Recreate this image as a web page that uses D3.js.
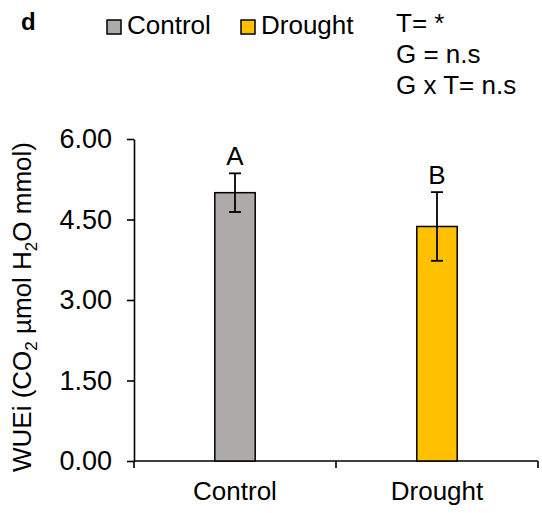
<!DOCTYPE html>
<html>
<head>
<meta charset="utf-8">
<script src="https://cdn.jsdelivr.net/npm/d3@7"></script>
<style>
  html, body { margin: 0; padding: 0; background: #fff; }
  svg text { font-family: Arial, "Liberation Sans", sans-serif; fill: #000; }
</style>
</head>
<body>
<svg id="chart" width="542" height="513"></svg>
<script>
// WUEi by treatment
const categories = ["Control", "Drought"];
const means = [5.00, 4.37];
const errors = [0.36, 0.64];
const letters = ["A", "B"];
const colors = ["#AEAAAA", "#FFC000"];
const yTicks = [0, 1.5, 3, 4.5, 6];
const statLines = ["T= *", "G = n.s", "G x T= n.s"];

const svg = d3.select("#chart");
const fs = 26;

const y = d3.scaleLinear().domain([0, 6]).range([461, 139]);
const x = d3.scaleBand().domain(categories).range([134, 538]).padding(0);
const barW = x.bandwidth() * 0.2;

// y axis
const yAxis = d3.axisLeft(y).tickValues(yTicks).tickFormat(d3.format(".2f"))
  .tickSizeInner(7).tickSizeOuter(0).tickPadding(15);
const gy = svg.append("g").attr("transform", "translate(134,0)").call(yAxis);
gy.select(".domain").attr("stroke", "#000").attr("stroke-width", 1.6);
gy.selectAll(".tick line").attr("stroke", "#000").attr("stroke-width", 1.6);
gy.selectAll(".tick text").style("font-size", "27px").attr("font-family", null).attr("fill", "#000");

// x axis with boundary ticks
svg.append("line").attr("x1", 134).attr("x2", 538).attr("y1", y(0)).attr("y2", y(0))
  .attr("stroke", "#000").attr("stroke-width", 1.6);
const bounds = [x.range()[0]].concat(categories.map(c => x(c) + x.bandwidth()));
svg.selectAll(".xtick").data(bounds).join("line")
  .attr("x1", d => d).attr("x2", d => d).attr("y1", y(0)).attr("y2", y(0) + 7)
  .attr("stroke", "#000").attr("stroke-width", 1.6);
svg.selectAll(".xlab").data(categories).join("text")
  .attr("x", d => x(d) + x.bandwidth() / 2).attr("y", 500)
  .attr("text-anchor", "middle").style("font-size", fs + "px").text(d => d);

// bars
const data = categories.map((c, i) => ({ c, m: means[i], e: errors[i], l: letters[i], col: colors[i] }));
svg.selectAll(".bar").data(data).join("rect")
  .attr("x", d => x(d.c) + x.bandwidth() / 2 - barW / 2)
  .attr("y", d => y(d.m)).attr("width", barW).attr("height", d => y(0) - y(d.m))
  .attr("fill", d => d.col).attr("stroke", "#000").attr("stroke-width", 1.5);

// error bars
const eb = svg.selectAll(".eb").data(data).join("g");
eb.append("line")
  .attr("x1", d => x(d.c) + x.bandwidth() / 2).attr("x2", d => x(d.c) + x.bandwidth() / 2)
  .attr("y1", d => y(d.m + d.e)).attr("y2", d => y(d.m - d.e));
eb.append("line")
  .attr("x1", d => x(d.c) + x.bandwidth() / 2 - 6).attr("x2", d => x(d.c) + x.bandwidth() / 2 + 6)
  .attr("y1", d => y(d.m + d.e)).attr("y2", d => y(d.m + d.e));
eb.append("line")
  .attr("x1", d => x(d.c) + x.bandwidth() / 2 - 6).attr("x2", d => x(d.c) + x.bandwidth() / 2 + 6)
  .attr("y1", d => y(d.m - d.e)).attr("y2", d => y(d.m - d.e));
eb.selectAll("line").attr("stroke", "#000").attr("stroke-width", 1.8);

// significance letters
svg.selectAll(".let").data(data).join("text")
  .attr("x", d => x(d.c) + x.bandwidth() / 2).attr("y", d => y(d.m + d.e) - 8)
  .attr("text-anchor", "middle").style("font-size", fs + "px").text(d => d.l);

// y axis title
const yt = svg.append("text").attr("transform", "translate(31,307) rotate(-90)")
  .attr("text-anchor", "middle").style("font-size", fs + "px");
yt.append("tspan").text("WUEi (CO");
yt.append("tspan").attr("dy", 6).style("font-size", "17px").text("2");
yt.append("tspan").attr("dy", -6).text(" µmol H");
yt.append("tspan").attr("dy", 6).style("font-size", "17px").text("2");
yt.append("tspan").attr("dy", -6).text("O mmol)");

// panel letter
svg.append("text").attr("x", 21).attr("y", 30).style("font-size", "24px")
  .style("font-weight", "bold").text("d");

// legend
const legX = [107, 241];
const lg = svg.selectAll(".leg").data(data).join("g")
  .attr("transform", (d, i) => `translate(${legX[i]},20)`);
lg.append("rect").attr("width", 14).attr("height", 14)
  .attr("fill", d => d.col).attr("stroke", "#000").attr("stroke-width", 1.5);
lg.append("text").attr("x", 20).attr("y", 14).style("font-size", fs + "px").text(d => d.c);

// statistics
svg.selectAll(".stat").data(statLines).join("text")
  .attr("x", 396).attr("y", (d, i) => 32 + i * 31)
  .style("font-size", fs + "px").text(d => d);
</script>
</body>
</html>
